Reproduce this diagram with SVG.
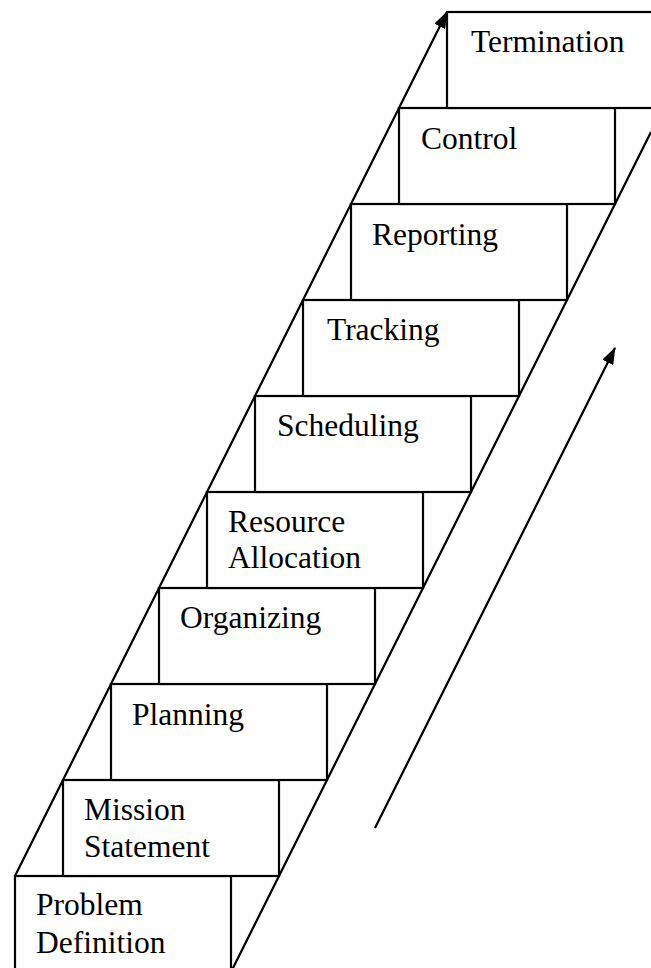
<svg xmlns="http://www.w3.org/2000/svg" width="651" height="968" viewBox="0 0 651 968">
  <style>
    .step rect { fill: #ffffff; stroke: #000000; stroke-width: 2.2; }
    .step text { font-family: "Liberation Serif", "Times New Roman", serif; font-size: 31.5px; fill: #000000; }
    .edge { stroke: #000000; stroke-width: 2.2; fill: none; }
  </style>
  <defs>
    <marker id="arrow" viewBox="0 0 17 12" refX="16" refY="6" markerWidth="17" markerHeight="12" markerUnits="userSpaceOnUse" orient="auto">
      <path d="M0,0 L17,6 L0,12 Z" fill="#000000"/>
    </marker>
  </defs>

  <!-- staircase steps, bottom to top -->
  <g id="problem-definition" class="step">
    <rect x="15" y="876" width="216" height="96"/>
    <text x="36" y="915">Problem</text>
    <text x="36" y="953">Definition</text>
  </g>
  <g id="mission-statement" class="step">
    <rect x="63" y="780" width="216" height="96"/>
    <text x="84" y="820">Mission</text>
    <text x="84" y="857">Statement</text>
  </g>
  <g id="planning" class="step">
    <rect x="111" y="684" width="216" height="96"/>
    <text x="132" y="725">Planning</text>
  </g>
  <g id="organizing" class="step">
    <rect x="159" y="588" width="216" height="96"/>
    <text x="180" y="628">Organizing</text>
  </g>
  <g id="resource-allocation" class="step">
    <rect x="207" y="492" width="216" height="96"/>
    <text x="228" y="532">Resource</text>
    <text x="228" y="568">Allocation</text>
  </g>
  <g id="scheduling" class="step">
    <rect x="255" y="396" width="216" height="96"/>
    <text x="277" y="436">Scheduling</text>
  </g>
  <g id="tracking" class="step">
    <rect x="303" y="300" width="216" height="96"/>
    <text x="327" y="340">Tracking</text>
  </g>
  <g id="reporting" class="step">
    <rect x="351" y="204" width="216" height="96"/>
    <text x="372" y="245">Reporting</text>
  </g>
  <g id="control" class="step">
    <rect x="399" y="108" width="216" height="96"/>
    <text x="421" y="149">Control</text>
  </g>
  <g id="termination" class="step">
    <rect x="447" y="12" width="216" height="96"/>
    <text x="471" y="52">Termination</text>
  </g>

  <!-- rails and progress arrow -->
  <g id="connectors">
    <line class="edge" x1="15" y1="876" x2="447" y2="12" marker-end="url(#arrow)"/>
    <line class="edge" x1="231" y1="972" x2="651" y2="132"/>
    <line class="edge" x1="375" y1="828" x2="615" y2="348" marker-end="url(#arrow)"/>
  </g>
</svg>
